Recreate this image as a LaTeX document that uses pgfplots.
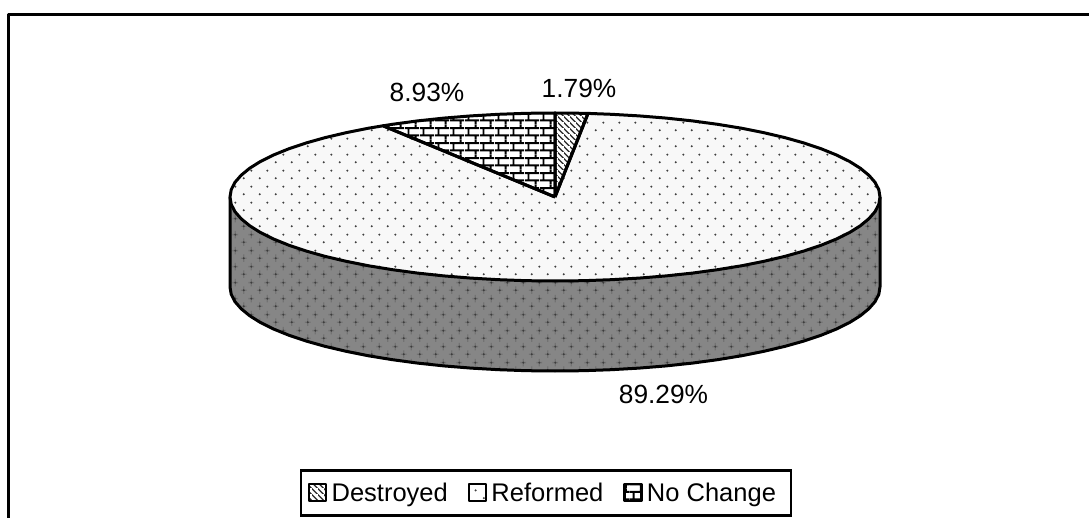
\documentclass[border=0pt]{standalone}
\usepackage{fontspec}
\setmainfont{Liberation Sans}
\usepackage{pgfplots}
\pgfplotsset{compat=1.18}
\usepackage{pgfplotstable}
\usetikzlibrary{patterns}
\pgfdeclarepatternformonly{pdots}{\pgfqpoint{0pt}{0pt}}{\pgfqpoint{16pt}{16pt}}{\pgfqpoint{16pt}{16pt}}{%
  \pgfpathcircle{\pgfqpoint{4pt}{4pt}}{1.2pt}\pgfpathcircle{\pgfqpoint{12pt}{12pt}}{1.2pt}\pgfusepath{fill}}
\pgfdeclarepatternformonly{pcross}{\pgfqpoint{0pt}{0pt}}{\pgfqpoint{16pt}{16pt}}{\pgfqpoint{16pt}{16pt}}{%
  \pgfsetlinewidth{1.4pt}%
  \pgfpathmoveto{\pgfqpoint{1pt}{4pt}}\pgfpathlineto{\pgfqpoint{7pt}{4pt}}%
  \pgfpathmoveto{\pgfqpoint{4pt}{0pt}}\pgfpathlineto{\pgfqpoint{4pt}{8pt}}%
  \pgfpathmoveto{\pgfqpoint{9pt}{12pt}}\pgfpathlineto{\pgfqpoint{15pt}{12pt}}%
  \pgfpathmoveto{\pgfqpoint{12pt}{8pt}}\pgfpathlineto{\pgfqpoint{12pt}{16pt}}%
  \pgfusepath{stroke}}
\pgfdeclarepatternformonly{pbrick}{\pgfqpoint{0pt}{0pt}}{\pgfqpoint{15pt}{15.2pt}}{\pgfqpoint{15pt}{15.2pt}}{%
  \pgfsetlinewidth{2pt}%
  \pgfpathmoveto{\pgfqpoint{0pt}{3.8pt}}\pgfpathlineto{\pgfqpoint{15pt}{3.8pt}}%
  \pgfpathmoveto{\pgfqpoint{0pt}{11.4pt}}\pgfpathlineto{\pgfqpoint{15pt}{11.4pt}}%
  \pgfpathmoveto{\pgfqpoint{3.75pt}{3.8pt}}\pgfpathlineto{\pgfqpoint{3.75pt}{11.4pt}}%
  \pgfpathmoveto{\pgfqpoint{11.25pt}{11.4pt}}\pgfpathlineto{\pgfqpoint{11.25pt}{15.2pt}}%
  \pgfpathmoveto{\pgfqpoint{11.25pt}{0pt}}\pgfpathlineto{\pgfqpoint{11.25pt}{3.8pt}}%
  \pgfusepath{stroke}}
\pgfdeclarepatternformonly{pdiag}{\pgfqpoint{0pt}{0pt}}{\pgfqpoint{6pt}{6pt}}{\pgfqpoint{6pt}{6pt}}{%
  \pgfsetlinewidth{1.4pt}%
  \pgfpathmoveto{\pgfqpoint{-1pt}{7pt}}\pgfpathlineto{\pgfqpoint{7pt}{-1pt}}%
  \pgfusepath{stroke}}
\definecolor{sidegray}{HTML}{868686}
\definecolor{topfill}{HTML}{F8F8F8}
\definecolor{dotgray}{HTML}{404040}
\definecolor{crossgray}{HTML}{737373}
\definecolor{sidedot}{HTML}{3C3C3C}
\pgfplotstableread{
x y
880 197
880 287
878.8 294.3
875.1 301.6
868.9 308.7
860.4 315.7
849.6 322.5
836.5 329
821.2 335.2
804 341
784.8 346.4
763.9 351.3
741.4 355.8
717.5 359.7
692.4 363.1
666.2 365.9
639.1 368.1
611.4 369.7
583.3 370.7
555 371
526.7 370.7
498.6 369.7
470.9 368.1
443.8 365.9
417.6 363.1
392.5 359.7
368.6 355.8
346.1 351.3
325.2 346.4
306 341
288.8 335.2
273.5 329
260.4 322.5
249.6 315.7
241.1 308.7
234.9 301.6
231.2 294.3
230 287
230 197
880 197
}\sidetable
\pgfplotstableread{
x y
555 197
588 113.4
611.4 114.3
639.1 115.9
666.2 118.1
692.4 120.9
717.5 124.3
741.4 128.2
763.9 132.7
784.8 137.6
804 143
821.2 148.8
836.5 155
849.6 161.5
860.4 168.3
868.9 175.3
875.1 182.4
878.8 189.7
880 197
878.8 204.3
875.1 211.6
868.9 218.7
860.4 225.7
849.6 232.5
836.5 239
821.2 245.2
804 251
784.8 256.4
763.9 261.3
741.4 265.8
717.5 269.7
692.4 273.1
666.2 275.9
639.1 278.1
611.4 279.7
583.3 280.7
555 281
526.7 280.7
498.6 279.7
470.9 278.1
443.8 275.9
417.6 273.1
392.5 269.7
368.6 265.8
346.1 261.3
325.2 256.4
306 251
288.8 245.2
273.5 239
260.4 232.5
249.6 225.7
241.1 218.7
234.9 211.6
231.2 204.3
230 197
231.2 189.7
234.9 182.4
241.1 175.3
249.6 168.3
260.4 161.5
273.5 155
288.8 148.8
306 143
325.2 137.6
346.1 132.7
368.6 128.2
383 125.8
555 197
}\reformedtable
\pgfplotstableread{
x y
555 197
383 125.8
392.5 124.3
417.6 120.9
443.8 118.1
470.9 115.9
498.6 114.3
526.7 113.3
555 113
555 197
}\bricktable
\pgfplotstableread{
x y
555 197
555 113
583.3 113.3
588 113.4
555 197
}\diagtable
\begin{document}
\begin{tikzpicture}
\useasboundingbox (0,0) rectangle (1089pt,518pt);
\begin{axis}[
  at={(0,0)}, anchor=south west,
  scale only axis, width=1089pt, height=518pt,
  xmin=0, xmax=1089, ymin=0, ymax=518, y dir=reverse,
  axis lines=none, clip=true,
  legend columns=3,
  legend style={at={(axis cs:546,493.2)}, anchor=center, draw=black, line width=2.5pt,
    font=\fontsize{25.5}{28}\selectfont, inner xsep=7pt, inner ysep=10.5pt,
    /tikz/every even column/.append style={column sep=18pt}},
  legend cell align=left,
  legend image code/.code={\draw[#1, line width=2.2pt] (0pt,-8pt) rectangle (17pt,9pt); \path (19pt,0pt);},
  every axis plot/.append style={line join=round},
]
\addplot[black, line width=2.5pt, forget plot] coordinates {(8.7,530) (8.7,14.5) (1100,14.5)};
\addplot[fill=sidegray, draw=none, forget plot] table {\sidetable};
\addplot[pattern=pcross, pattern color=crossgray, draw=none, forget plot] table {\sidetable};
\addplot[pattern=pdots, pattern color=sidedot, draw=black, line width=3pt, forget plot] table {\sidetable};
\addplot[fill=topfill, draw=none, forget plot] table {\reformedtable};
\addplot[fill=white, draw=none, forget plot] table {\bricktable};
\addplot[fill=white, draw=none, forget plot] table {\diagtable};
\addplot[pattern=pdiag, pattern color=black!85, draw=black, line width=3pt] table {\diagtable};
\addlegendentry{Destroyed}
\addplot[pattern=pdots, pattern color=dotgray, draw=black, line width=3pt] table {\reformedtable};
\addlegendentry{Reformed}
\addplot[pattern=pbrick, pattern color=black, draw=black, line width=3pt] table {\bricktable};
\addlegendentry{No Change\hspace*{6pt}}
\node[font=\fontsize{26.3}{29}\selectfont] at (axis cs:427,92) {8.93\%};
\node[font=\fontsize{26.3}{29}\selectfont] at (axis cs:579,88) {1.79\%};
\node[font=\fontsize{26.3}{29}\selectfont] at (axis cs:663.5,394) {89.29\%};
\end{axis}
\end{tikzpicture}
\end{document}
